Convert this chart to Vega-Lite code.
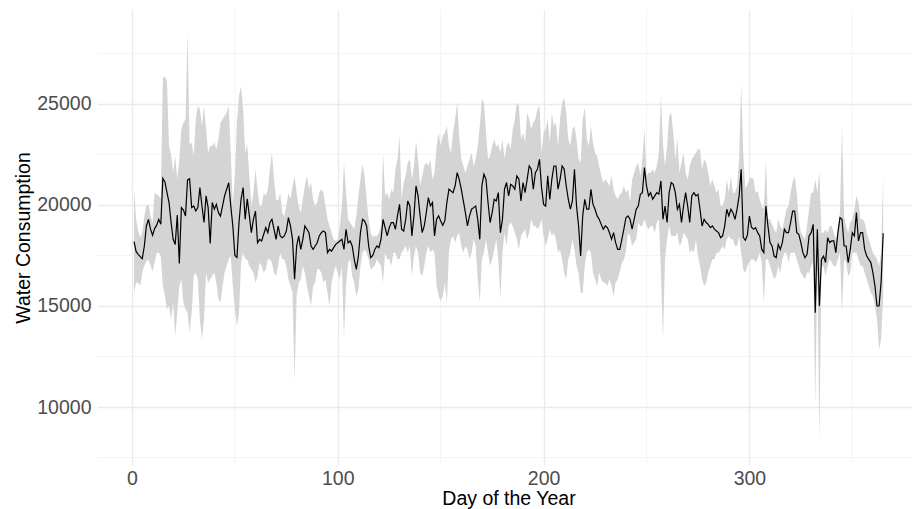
{
  "$schema": "https://vega.github.io/schema/vega-lite/v6.json",
  "width": 815,
  "height": 455,
  "autosize": {"type": "none"},
  "padding": {"left": 97, "top": 10, "right": 0, "bottom": 44},
  "background": "white",
  "config": {
    "view": {"stroke": null},
    "font": "Liberation Sans",
    "axis": {
      "grid": true,
      "gridColor": "#EBEBEB",
      "gridWidth": 1.4,
      "domain": false,
      "ticks": false,
      "tickSize": 0,
      "labelFont": "Liberation Sans",
      "labelFontSize": 19.5,
      "labelColor": "#4D4D4D",
      "titleFont": "Liberation Sans",
      "titleFontSize": 19.5,
      "titleFontWeight": "normal",
      "titleColor": "#000000",
      "titleBaseline": "alphabetic"
    },
    "axisX": {"labelPadding": 19, "labelBaseline": "alphabetic", "titleX": 411.5, "titleY": 39},
    "axisY": {"labelPadding": 6, "labelBaseline": "middle", "titleX": -68, "titleY": 227.5, "titleAngle": 270}
  },
  "datasets": {
    "minorX": [{"day": 50}, {"day": 150}, {"day": 250}, {"day": 350}],
    "minorY": [{"level": 7500}, {"level": 12500}, {"level": 17500}, {"level": 22500}, {"level": 27500}],
    "consumption": [
      {"day":1,"mean":18185,"lower":15660,"upper":20810},{"day":2,"mean":17700,"lower":16150,"upper":19300},{"day":3,"mean":17560,"lower":16150,"upper":18700},{"day":4,"mean":17440,"lower":15990,"upper":18400},{"day":5,"mean":17340,"lower":16650,"upper":18630},{"day":6,"mean":17970,"lower":17000,"upper":19460},{"day":7,"mean":18960,"lower":17200,"upper":19950},{"day":8,"mean":19290,"lower":17300,"upper":20030},{"day":9,"mean":18800,"lower":17000,"upper":19460},{"day":10,"mean":18500,"lower":16700,"upper":19130},
      {"day":11,"mean":18830,"lower":17150,"upper":20610},{"day":12,"mean":19000,"lower":17640,"upper":20530},{"day":13,"mean":19290,"lower":17640,"upper":20450},{"day":14,"mean":19050,"lower":17470,"upper":20280},{"day":15,"mean":21320,"lower":15990,"upper":26300},{"day":16,"mean":21140,"lower":15500,"upper":26350},{"day":17,"mean":20610,"lower":14840,"upper":26140},{"day":18,"mean":20120,"lower":15000,"upper":22920},{"day":19,"mean":19130,"lower":14340,"upper":22510},{"day":20,"mean":18300,"lower":15170,"upper":21600},
      {"day":21,"mean":18040,"lower":13520,"upper":22430},{"day":22,"mean":19500,"lower":14670,"upper":21270},{"day":23,"mean":17110,"lower":15990,"upper":22260},{"day":24,"mean":19870,"lower":16320,"upper":23750},{"day":25,"mean":19750,"lower":15170,"upper":24080},{"day":26,"mean":19450,"lower":14840,"upper":24240},{"day":27,"mean":21240,"lower":14670,"upper":28550},{"day":28,"mean":21300,"lower":13680,"upper":23000},{"day":29,"mean":19870,"lower":14670,"upper":23090},{"day":30,"mean":19950,"lower":16480,"upper":22430},
      {"day":31,"mean":19700,"lower":16650,"upper":24240},{"day":32,"mean":19870,"lower":16320,"upper":24900},{"day":33,"mean":20860,"lower":14340,"upper":24740},{"day":34,"mean":19950,"lower":13350,"upper":23910},{"day":35,"mean":19130,"lower":14340,"upper":24900},{"day":36,"mean":20450,"lower":16650,"upper":23750},{"day":37,"mean":19870,"lower":16150,"upper":22590},{"day":38,"mean":18100,"lower":16320,"upper":22920},{"day":39,"mean":20120,"lower":16480,"upper":22920},{"day":40,"mean":19790,"lower":16650,"upper":23090},
      {"day":41,"mean":20030,"lower":16150,"upper":22760},{"day":42,"mean":19620,"lower":15330,"upper":23250},{"day":43,"mean":19450,"lower":15170,"upper":24080},{"day":44,"mean":19950,"lower":15990,"upper":24240},{"day":45,"mean":20450,"lower":16650,"upper":24410},{"day":46,"mean":20780,"lower":16980,"upper":24570},{"day":47,"mean":21100,"lower":17310,"upper":24900},{"day":48,"mean":19950,"lower":17470,"upper":22590},{"day":49,"mean":18960,"lower":15990,"upper":19950},{"day":50,"mean":17500,"lower":14840,"upper":21440},
      {"day":51,"mean":17400,"lower":14010,"upper":24080},{"day":52,"mean":19130,"lower":14670,"upper":25400},{"day":53,"mean":20280,"lower":17150,"upper":25890},{"day":54,"mean":20860,"lower":17640,"upper":24740},{"day":55,"mean":19290,"lower":17310,"upper":22590},{"day":56,"mean":20300,"lower":17300,"upper":23000},{"day":57,"mean":19500,"lower":16980,"upper":21500},{"day":58,"mean":18630,"lower":16820,"upper":19950},{"day":59,"mean":19290,"lower":16650,"upper":20610},{"day":60,"mean":19700,"lower":16150,"upper":21770},
      {"day":61,"mean":18130,"lower":16480,"upper":20780},{"day":62,"mean":18300,"lower":17150,"upper":19950},{"day":63,"mean":18220,"lower":16980,"upper":19950},{"day":64,"mean":18550,"lower":16650,"upper":20610},{"day":65,"mean":18880,"lower":16820,"upper":20450},{"day":66,"mean":18630,"lower":17310,"upper":20780},{"day":67,"mean":19130,"lower":17310,"upper":21770},{"day":68,"mean":19290,"lower":17150,"upper":22590},{"day":69,"mean":18800,"lower":16650,"upper":21270},{"day":70,"mean":18300,"lower":16480,"upper":20280},
      {"day":71,"mean":18960,"lower":16980,"upper":20200},{"day":72,"mean":18470,"lower":17640,"upper":20610},{"day":73,"mean":18380,"lower":17310,"upper":19620},{"day":74,"mean":18470,"lower":17310,"upper":19460},{"day":75,"mean":18710,"lower":16980,"upper":19950},{"day":76,"mean":19370,"lower":16320,"upper":20610},{"day":77,"mean":18960,"lower":15990,"upper":20280},{"day":78,"mean":18300,"lower":15660,"upper":20940},{"day":79,"mean":16320,"lower":11300,"upper":21440},{"day":80,"mean":17970,"lower":15500,"upper":20610},
      {"day":81,"mean":18470,"lower":16150,"upper":19950},{"day":82,"mean":17800,"lower":16320,"upper":19620},{"day":83,"mean":18300,"lower":16980,"upper":20280},{"day":84,"mean":18960,"lower":16650,"upper":20940},{"day":85,"mean":18800,"lower":15990,"upper":21440},{"day":86,"mean":18630,"lower":15500,"upper":20780},{"day":87,"mean":17970,"lower":15000,"upper":21110},{"day":88,"mean":17800,"lower":15990,"upper":20280},{"day":89,"mean":17970,"lower":16150,"upper":19950},{"day":90,"mean":18130,"lower":16820,"upper":20120},
      {"day":91,"mean":18470,"lower":16820,"upper":20610},{"day":92,"mean":18630,"lower":16650,"upper":20780},{"day":93,"mean":18710,"lower":16150,"upper":20610},{"day":94,"mean":18630,"lower":16320,"upper":19950},{"day":95,"mean":17640,"lower":15660,"upper":19290},{"day":96,"mean":17800,"lower":15000,"upper":18960},{"day":97,"mean":17720,"lower":16150,"upper":18630},{"day":98,"mean":17890,"lower":16650,"upper":18300},{"day":99,"mean":18050,"lower":16980,"upper":18220},{"day":100,"mean":18130,"lower":16650,"upper":18300},
      {"day":101,"mean":18220,"lower":16320,"upper":18960},{"day":102,"mean":18300,"lower":16980,"upper":19950},{"day":103,"mean":17800,"lower":13400,"upper":22100},{"day":104,"mean":18800,"lower":15990,"upper":20610},{"day":105,"mean":18130,"lower":17150,"upper":19290},{"day":106,"mean":18220,"lower":17310,"upper":19130},{"day":107,"mean":17970,"lower":16480,"upper":18960},{"day":108,"mean":17310,"lower":16150,"upper":18800},{"day":109,"mean":16810,"lower":15500,"upper":19460},{"day":110,"mean":17470,"lower":15810,"upper":20450},
      {"day":111,"mean":18630,"lower":16980,"upper":21270},{"day":112,"mean":19290,"lower":17640,"upper":22010},{"day":113,"mean":19210,"lower":17800,"upper":21440},{"day":114,"mean":18960,"lower":17640,"upper":20280},{"day":115,"mean":17970,"lower":17310,"upper":19290},{"day":116,"mean":17390,"lower":16800,"upper":18630},{"day":117,"mean":17500,"lower":16900,"upper":18400},{"day":118,"mean":17800,"lower":17000,"upper":18470},{"day":119,"mean":17970,"lower":17310,"upper":18470},{"day":120,"mean":17890,"lower":17150,"upper":18630},
      {"day":121,"mean":18300,"lower":16980,"upper":18960},{"day":122,"mean":19290,"lower":16150,"upper":22590},{"day":123,"mean":18880,"lower":17640,"upper":20450},{"day":124,"mean":18470,"lower":17310,"upper":20610},{"day":125,"mean":18880,"lower":17310,"upper":20280},{"day":126,"mean":19130,"lower":16980,"upper":20780},{"day":127,"mean":19130,"lower":17640,"upper":20610},{"day":128,"mean":18800,"lower":17640,"upper":21770},{"day":129,"mean":19460,"lower":17310,"upper":22260},{"day":130,"mean":20030,"lower":17310,"upper":23420},
      {"day":131,"mean":18800,"lower":17640,"upper":20280},{"day":132,"mean":18710,"lower":17800,"upper":21110},{"day":133,"mean":19290,"lower":17970,"upper":21440},{"day":134,"mean":20200,"lower":17640,"upper":22100},{"day":135,"mean":19950,"lower":17970,"upper":22260},{"day":136,"mean":18470,"lower":16480,"upper":21270},{"day":137,"mean":19460,"lower":17470,"upper":21930},{"day":138,"mean":20940,"lower":17970,"upper":23170},{"day":139,"mean":20450,"lower":17640,"upper":22260},{"day":140,"mean":19460,"lower":16650,"upper":20940},
      {"day":141,"mean":18630,"lower":16480,"upper":21440},{"day":142,"mean":18960,"lower":16980,"upper":21930},{"day":143,"mean":19620,"lower":17640,"upper":22100},{"day":144,"mean":20360,"lower":17970,"upper":21930},{"day":145,"mean":19950,"lower":17640,"upper":22260},{"day":146,"mean":20120,"lower":17800,"upper":21270},{"day":147,"mean":18470,"lower":17640,"upper":21600},{"day":148,"mean":19290,"lower":15990,"upper":22920},{"day":149,"mean":19460,"lower":15500,"upper":23580},{"day":150,"mean":19210,"lower":15250,"upper":22920},
      {"day":151,"mean":18990,"lower":15500,"upper":23420},{"day":152,"mean":19210,"lower":16150,"upper":23580},{"day":153,"mean":20120,"lower":15170,"upper":23910},{"day":154,"mean":20780,"lower":17640,"upper":22920},{"day":155,"mean":20690,"lower":18300,"upper":22590},{"day":156,"mean":20610,"lower":18470,"upper":23580},{"day":157,"mean":20940,"lower":18140,"upper":24240},{"day":158,"mean":21600,"lower":18470,"upper":25070},{"day":159,"mean":21270,"lower":18630,"upper":23420},{"day":160,"mean":20780,"lower":17970,"upper":22260},
      {"day":161,"mean":20200,"lower":17640,"upper":21930},{"day":162,"mean":19620,"lower":17970,"upper":21600},{"day":163,"mean":18960,"lower":17800,"upper":21930},{"day":164,"mean":19460,"lower":17310,"upper":22260},{"day":165,"mean":19790,"lower":17640,"upper":22590},{"day":166,"mean":19870,"lower":18300,"upper":21930},{"day":167,"mean":19950,"lower":17970,"upper":22260},{"day":168,"mean":19290,"lower":16320,"upper":22920},{"day":169,"mean":18300,"lower":15170,"upper":23910},{"day":170,"mean":20940,"lower":17310,"upper":25230},
      {"day":171,"mean":21520,"lower":17640,"upper":25070},{"day":172,"mean":21270,"lower":18300,"upper":23580},{"day":173,"mean":20120,"lower":17640,"upper":22260},{"day":174,"mean":19130,"lower":16980,"upper":22430},{"day":175,"mean":19620,"lower":17310,"upper":22920},{"day":176,"mean":20280,"lower":17800,"upper":23250},{"day":177,"mean":20200,"lower":18300,"upper":22900},{"day":178,"mean":20610,"lower":17310,"upper":23000},{"day":179,"mean":18630,"lower":15330,"upper":22590},{"day":180,"mean":19290,"lower":17640,"upper":23250},
      {"day":181,"mean":20780,"lower":18630,"upper":22260},{"day":182,"mean":21110,"lower":17970,"upper":22920},{"day":183,"mean":20450,"lower":18960,"upper":23090},{"day":184,"mean":21020,"lower":19130,"upper":22760},{"day":185,"mean":20940,"lower":18960,"upper":23750},{"day":186,"mean":20780,"lower":18630,"upper":24240},{"day":187,"mean":21440,"lower":18300,"upper":25070},{"day":188,"mean":21270,"lower":17800,"upper":24900},{"day":189,"mean":20200,"lower":18470,"upper":23250},{"day":190,"mean":21110,"lower":18630,"upper":23580},
      {"day":191,"mean":20610,"lower":18800,"upper":23090},{"day":192,"mean":21270,"lower":18300,"upper":24570},{"day":193,"mean":21930,"lower":18630,"upper":24240},{"day":194,"mean":21770,"lower":19290,"upper":23750},{"day":195,"mean":20780,"lower":18960,"upper":24080},{"day":196,"mean":21600,"lower":18960,"upper":24240},{"day":197,"mean":21770,"lower":18800,"upper":24740},{"day":198,"mean":22260,"lower":18960,"upper":24900},{"day":199,"mean":20860,"lower":19290,"upper":22590},{"day":200,"mean":20030,"lower":18470,"upper":23580},
      {"day":201,"mean":19950,"lower":17970,"upper":23750},{"day":202,"mean":21440,"lower":18300,"upper":24240},{"day":203,"mean":20280,"lower":18800,"upper":23090},{"day":204,"mean":21270,"lower":18470,"upper":24570},{"day":205,"mean":21930,"lower":18630,"upper":23910},{"day":206,"mean":21930,"lower":18300,"upper":24080},{"day":207,"mean":20780,"lower":17640,"upper":22920},{"day":208,"mean":21270,"lower":17800,"upper":24240},{"day":209,"mean":21930,"lower":17310,"upper":25070},{"day":210,"mean":21770,"lower":16650,"upper":25310},
      {"day":211,"mean":20940,"lower":16320,"upper":24570},{"day":212,"mean":20280,"lower":17310,"upper":23250},{"day":213,"mean":19790,"lower":17640,"upper":22920},{"day":214,"mean":20200,"lower":18300,"upper":23750},{"day":215,"mean":21770,"lower":17800,"upper":23910},{"day":216,"mean":19950,"lower":16980,"upper":23250},{"day":217,"mean":18960,"lower":16650,"upper":22260},{"day":218,"mean":17480,"lower":15660,"upper":22100},{"day":219,"mean":19460,"lower":15660,"upper":24240},{"day":220,"mean":20280,"lower":16980,"upper":24820},
      {"day":221,"mean":19790,"lower":17640,"upper":23250},{"day":222,"mean":19790,"lower":17800,"upper":22920},{"day":223,"mean":20780,"lower":17640,"upper":23910},{"day":224,"mean":20030,"lower":16650,"upper":23090},{"day":225,"mean":19790,"lower":16320,"upper":22590},{"day":226,"mean":19460,"lower":15990,"upper":22430},{"day":227,"mean":19290,"lower":16650,"upper":21930},{"day":228,"mean":19040,"lower":16320,"upper":21440},{"day":229,"mean":18800,"lower":16150,"upper":21110},{"day":230,"mean":18960,"lower":16150,"upper":21270},
      {"day":231,"mean":18880,"lower":15990,"upper":21110},{"day":232,"mean":18630,"lower":16320,"upper":20940},{"day":233,"mean":18300,"lower":15990,"upper":21440},{"day":234,"mean":18630,"lower":15500,"upper":20780},{"day":235,"mean":18140,"lower":16150,"upper":20450},{"day":236,"mean":17800,"lower":16320,"upper":20280},{"day":237,"mean":17800,"lower":16700,"upper":20500},{"day":238,"mean":18300,"lower":17100,"upper":20610},{"day":239,"mean":18800,"lower":17300,"upper":20940},{"day":240,"mean":19370,"lower":17700,"upper":20610},
      {"day":241,"mean":19460,"lower":18630,"upper":20780},{"day":242,"mean":19290,"lower":18470,"upper":20120},{"day":243,"mean":18800,"lower":17970,"upper":21270},{"day":244,"mean":19290,"lower":18140,"upper":21600},{"day":245,"mean":19790,"lower":18300,"upper":21930},{"day":246,"mean":19950,"lower":19130,"upper":22100},{"day":247,"mean":20530,"lower":18960,"upper":21440},{"day":248,"mean":20610,"lower":18960,"upper":22260},{"day":249,"mean":21850,"lower":19290,"upper":23750},{"day":250,"mean":20940,"lower":18960,"upper":21440},
      {"day":251,"mean":20450,"lower":18800,"upper":21600},{"day":252,"mean":20610,"lower":18960,"upper":21600},{"day":253,"mean":20280,"lower":18960,"upper":21770},{"day":254,"mean":20450,"lower":18630,"upper":21600},{"day":255,"mean":20610,"lower":19130,"upper":21930},{"day":256,"mean":20530,"lower":19290,"upper":22590},{"day":257,"mean":21190,"lower":16650,"upper":25400},{"day":258,"mean":19290,"lower":13350,"upper":23000},{"day":259,"mean":19950,"lower":17310,"upper":21930},{"day":260,"mean":19130,"lower":18300,"upper":22920},
      {"day":261,"mean":20610,"lower":18960,"upper":24410},{"day":262,"mean":21110,"lower":18470,"upper":24570},{"day":263,"mean":21020,"lower":18470,"upper":23580},{"day":264,"mean":20610,"lower":18470,"upper":22260},{"day":265,"mean":19790,"lower":18630,"upper":23250},{"day":266,"mean":20030,"lower":17970,"upper":21600},{"day":267,"mean":19130,"lower":18140,"upper":22100},{"day":268,"mean":19950,"lower":18630,"upper":22590},{"day":269,"mean":20610,"lower":18470,"upper":21600},{"day":270,"mean":19950,"lower":18300,"upper":21270},
      {"day":271,"mean":19130,"lower":17640,"upper":21930},{"day":272,"mean":20450,"lower":17800,"upper":22260},{"day":273,"mean":20610,"lower":17640,"upper":22430},{"day":274,"mean":20450,"lower":18300,"upper":22590},{"day":275,"mean":20530,"lower":17470,"upper":22760},{"day":276,"mean":19790,"lower":16980,"upper":22760},{"day":277,"mean":18960,"lower":16320,"upper":21770},{"day":278,"mean":19290,"lower":15990,"upper":22260},{"day":279,"mean":19130,"lower":16150,"upper":22100},{"day":280,"mean":19040,"lower":16650,"upper":21600},
      {"day":281,"mean":18880,"lower":16980,"upper":20940},{"day":282,"mean":18960,"lower":17310,"upper":21270},{"day":283,"mean":18800,"lower":17310,"upper":20940},{"day":284,"mean":18710,"lower":17640,"upper":20610},{"day":285,"mean":18630,"lower":17640,"upper":20780},{"day":286,"mean":18380,"lower":17800,"upper":19950},{"day":287,"mean":18470,"lower":17970,"upper":19950},{"day":288,"mean":18960,"lower":17800,"upper":20280},{"day":289,"mean":19790,"lower":18300,"upper":21270},{"day":290,"mean":19460,"lower":18470,"upper":20610},
      {"day":291,"mean":19790,"lower":18300,"upper":21440},{"day":292,"mean":19620,"lower":18300,"upper":20610},{"day":293,"mean":19290,"lower":17970,"upper":20610},{"day":294,"mean":19790,"lower":17970,"upper":20940},{"day":295,"mean":20450,"lower":18470,"upper":22260},{"day":296,"mean":21770,"lower":17640,"upper":26000},{"day":297,"mean":18400,"lower":16820,"upper":22590},{"day":298,"mean":18250,"lower":16650,"upper":20800},{"day":299,"mean":18500,"lower":16980,"upper":21000},{"day":300,"mean":19450,"lower":17150,"upper":21300},
      {"day":301,"mean":18900,"lower":17310,"upper":21350},{"day":302,"mean":18800,"lower":17310,"upper":21270},{"day":303,"mean":18880,"lower":17150,"upper":20610},{"day":304,"mean":18630,"lower":17310,"upper":20690},{"day":305,"mean":18470,"lower":17640,"upper":20280},{"day":306,"mean":17800,"lower":17150,"upper":19950},{"day":307,"mean":17640,"lower":15100,"upper":19790},{"day":308,"mean":19950,"lower":17310,"upper":22260},{"day":309,"mean":18960,"lower":17310,"upper":19290},{"day":310,"mean":18140,"lower":16980,"upper":19290},
      {"day":311,"mean":17970,"lower":16650,"upper":19040},{"day":312,"mean":17470,"lower":16320,"upper":18800},{"day":313,"mean":17390,"lower":16480,"upper":18630},{"day":314,"mean":18050,"lower":16980,"upper":19290},{"day":315,"mean":17800,"lower":16650,"upper":18960},{"day":316,"mean":18140,"lower":17310,"upper":18800},{"day":317,"mean":18800,"lower":17640,"upper":19290},{"day":318,"mean":18630,"lower":17640,"upper":19790},{"day":319,"mean":18630,"lower":17150,"upper":19950},{"day":320,"mean":19130,"lower":17640,"upper":20610},
      {"day":321,"mean":19700,"lower":17640,"upper":21110},{"day":322,"mean":19700,"lower":17640,"upper":21440},{"day":323,"mean":18630,"lower":17310,"upper":20610},{"day":324,"mean":18550,"lower":16980,"upper":19290},{"day":325,"mean":18140,"lower":16650,"upper":18630},{"day":326,"mean":17640,"lower":16480,"upper":18470},{"day":327,"mean":17390,"lower":16320,"upper":18300},{"day":328,"mean":17560,"lower":16650,"upper":18960},{"day":329,"mean":18470,"lower":16650,"upper":19790},{"day":330,"mean":18630,"lower":16980,"upper":20610},
      {"day":331,"mean":19040,"lower":17150,"upper":20610},{"day":332,"mean":14670,"lower":10050,"upper":21270},{"day":333,"mean":18800,"lower":16980,"upper":20610},{"day":334,"mean":15000,"lower":8400,"upper":21680},{"day":335,"mean":17310,"lower":16980,"upper":18630},{"day":336,"mean":17470,"lower":16980,"upper":18630},{"day":337,"mean":17150,"lower":16500,"upper":18800},{"day":338,"mean":18380,"lower":16980,"upper":18630},{"day":339,"mean":18140,"lower":17310,"upper":18960},{"day":340,"mean":18220,"lower":17150,"upper":18960},
      {"day":341,"mean":18220,"lower":16980,"upper":18630},{"day":342,"mean":17640,"lower":16980,"upper":18300},{"day":343,"mean":18630,"lower":17310,"upper":18800},{"day":344,"mean":19370,"lower":17640,"upper":19620},{"day":345,"mean":19290,"lower":14650,"upper":23900},{"day":346,"mean":17970,"lower":17310,"upper":19460},{"day":347,"mean":17970,"lower":17150,"upper":18960},{"day":348,"mean":17150,"lower":16480,"upper":18630},{"day":349,"mean":17800,"lower":16650,"upper":19130},{"day":350,"mean":18630,"lower":17640,"upper":19290},
      {"day":351,"mean":18470,"lower":17640,"upper":19790},{"day":352,"mean":19620,"lower":17640,"upper":20450},{"day":353,"mean":18220,"lower":17310,"upper":20120},{"day":354,"mean":18630,"lower":16980,"upper":19290},{"day":355,"mean":18630,"lower":16980,"upper":19290},{"day":356,"mean":17800,"lower":16650,"upper":19130},{"day":357,"mean":17470,"lower":16320,"upper":18630},{"day":358,"mean":17310,"lower":15990,"upper":18300},{"day":359,"mean":17150,"lower":15660,"upper":17970},{"day":360,"mean":16650,"lower":15500,"upper":17640},
      {"day":361,"mean":15990,"lower":15000,"upper":17470},{"day":362,"mean":15000,"lower":14340,"upper":17310},{"day":363,"mean":15000,"lower":12860,"upper":16980},{"day":364,"mean":16200,"lower":13350,"upper":17640},{"day":365,"mean":18600,"lower":15500,"upper":21500}
    ]
  },
  "encoding": {
    "x": {
      "type": "quantitative",
      "scale": {"domain": [-17, 379], "nice": false, "zero": false},
      "axis": {"title": "Day of the Year", "values": [0, 100, 200, 300], "format": "d"}
    },
    "y": {
      "type": "quantitative",
      "scale": {"domain": [7130, 29650], "nice": false, "zero": false},
      "axis": {"title": "Water Consumption", "values": [10000, 15000, 20000, 25000], "format": "d"}
    }
  },
  "layer": [
    {
      "data": {"name": "minorX"},
      "mark": {"type": "rule", "color": "#EFEFEF", "strokeWidth": 0.7},
      "encoding": {"x": {"field": "day"}, "y": null}
    },
    {
      "data": {"name": "minorY"},
      "mark": {"type": "rule", "color": "#EFEFEF", "strokeWidth": 0.7},
      "encoding": {"y": {"field": "level"}, "x": null}
    },
    {
      "data": {"name": "consumption"},
      "mark": {"type": "area", "color": "#D4D4D4", "opacity": 1},
      "encoding": {
        "x": {"field": "day"},
        "y": {"field": "lower"},
        "y2": {"field": "upper"}
      }
    },
    {
      "data": {"name": "consumption"},
      "mark": {"type": "line", "color": "#000000", "strokeWidth": 1.2},
      "encoding": {
        "x": {"field": "day"},
        "y": {"field": "mean"}
      }
    }
  ]
}
